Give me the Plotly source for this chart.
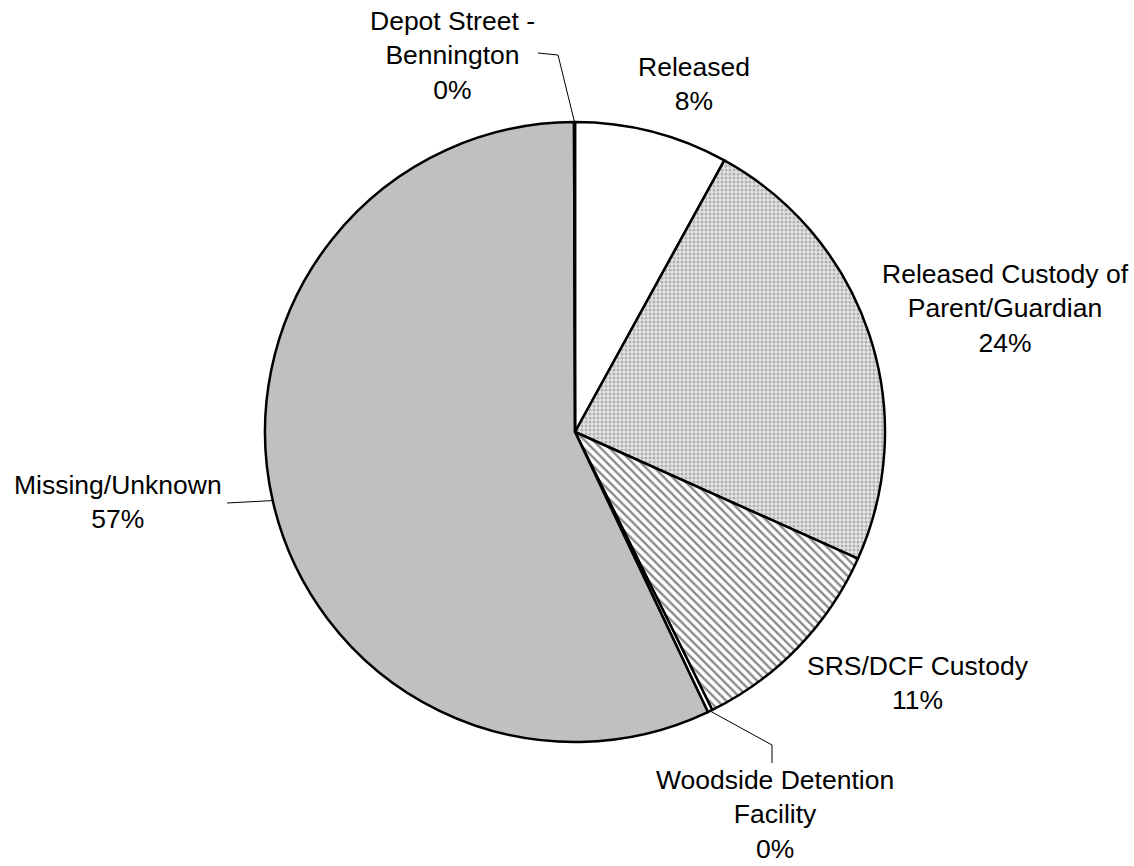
import math
import plotly.graph_objects as go

# ---- data ----
labels = ["Released", "Released Custody of Parent/Guardian", "SRS/DCF Custody",
          "Woodside Detention Facility", "Missing/Unknown", "Depot Street - Bennington"]
label_lines = ["Released", "Released Custody of<br>Parent/Guardian", "SRS/DCF Custody",
               "Woodside Detention<br>Facility", "Missing/Unknown", "Depot Street -<br>Bennington"]
values = [8.0, 23.7, 11.0, 0.25, 57.0, 0.05]
pct_text = ["8%", "24%", "11%", "0%", "57%", "0%"]

colors = ["#ffffff", "#e4e4e4", "#ffffff", "#ffffff", "#c0c0c0", "#ffffff"]
shapes_pat = ["", ".", "\\", "", "", ""]
fg_pat = ["#ffffff", "#b0b0b0", "#8a8a8a", "#ffffff", "#c0c0c0", "#ffffff"]

W, H = 1134, 866
cx, cy, R = 575, 432, 310  # pixel geometry of the pie

dom_x = [(cx - R) / W, (cx + R) / W]
dom_y = [(H - cy - R) / H, (H - cy + R) / H]

fig = go.Figure(go.Pie(
    labels=labels, values=values, sort=False, direction="clockwise", rotation=0,
    textinfo="none", hoverinfo="label+percent",
    marker=dict(colors=colors, line=dict(color="black", width=2.5),
                pattern=dict(shape=shapes_pat, fgcolor=fg_pat, bgcolor=colors,
                             size=[6, 4, 6, 6, 6, 6], solidity=[0.3, 0.45, 0.4, 0.3, 0.3, 0.3])),
    domain=dict(x=dom_x, y=dom_y), showlegend=False,
))

# label anchor positions (pixel centers of text blocks)
label_pos = [(694, 84), (1005, 308), (918, 683), (775, 814), (118, 502), (452, 55)]
# leader-line elbows (None = no leader line)
elbows = [None, None, None, [(772, 745), (772, 763)], [(227, 503)], [(558, 55), (538, 53)]]

def px(x, y):
    return x / W, (H - y) / H

annotations = []
shapes = []
total = sum(values)
cum = 0
for i, v in enumerate(values):
    mid = (cum + v / 2) / total * 2 * math.pi
    cum += v
    ex = cx + R * math.sin(mid)
    ey = cy - R * math.cos(mid)
    lx, ly = label_pos[i]
    ax_, ay_ = px(lx, ly)
    annotations.append(dict(x=ax_, y=ay_, xref="paper", yref="paper", showarrow=False,
                            text=label_lines[i] + "<br>" + pct_text[i], align="center",
                            xanchor="center", yanchor="middle", borderpad=0,
                            font=dict(family="Liberation Sans, Arial", size=26.5, color="black")))
    if elbows[i]:
        pts = [(ex, ey)] + elbows[i]
        path = "M " + " L ".join(f"{px(x, y)[0]},{px(x, y)[1]}" for x, y in pts)
        shapes.append(dict(type="path", path=path, xref="paper", yref="paper",
                           line=dict(color="black", width=1)))

fig.update_layout(width=W, height=H, margin=dict(l=0, r=0, t=0, b=0),
                  paper_bgcolor="white", plot_bgcolor="white",
                  annotations=annotations, shapes=shapes)
fig.write_html("out.html", config={"displayModeBar": False},
               post_script="document.body.style.margin='0';")
